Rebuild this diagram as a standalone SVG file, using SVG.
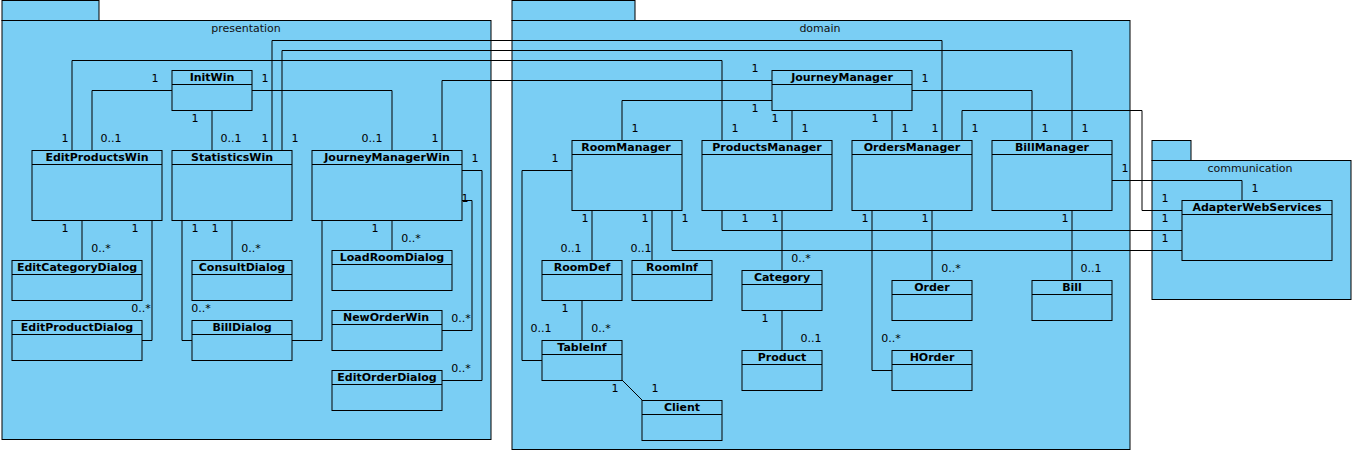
<svg xmlns="http://www.w3.org/2000/svg" width="1356" height="455" viewBox="0 0 1356 455">
<style>
.pkg{fill:#7acef4;stroke:#000;stroke-width:1}
.pl{font-family:"DejaVu Sans",sans-serif;font-size:11px;text-anchor:middle;fill:#111}
.cls rect{fill:#7acef4;stroke:#000;stroke-width:1}
.cls line{stroke:#000;stroke-width:1}
.cls text{font-family:"DejaVu Sans",sans-serif;font-size:11px;font-weight:bold;text-anchor:middle;fill:#000}
#connectors path{fill:none;stroke:#000;stroke-width:1}
.m{font-family:"DejaVu Sans",sans-serif;font-size:11px;text-anchor:middle;fill:#000}
</style>
<rect width="1356" height="455" fill="#fff"/>
<g id="pkg-presentation">
<rect class="pkg" x="2" y="0.5" width="97" height="20"/>
<rect class="pkg" x="2" y="20.5" width="489" height="419"/>
<text class="pl" x="246" y="32">presentation</text>
</g>
<g id="pkg-domain">
<rect class="pkg" x="512" y="0.5" width="123" height="20"/>
<rect class="pkg" x="512" y="20.5" width="618" height="429"/>
<text class="pl" x="820" y="32">domain</text>
</g>
<g id="pkg-communication">
<rect class="pkg" x="1152" y="140.5" width="39" height="20"/>
<rect class="pkg" x="1152" y="160.5" width="199" height="139"/>
<text class="pl" x="1250" y="172">communication</text>
</g>
<g id="connectors">
<path d="M172,90.5 H92 V150"/>
<path d="M252,90.5 H392 V150"/>
<path d="M212,110 V150"/>
<path d="M72,150 V60.5 H722 V140"/>
<path d="M272,150 V40.5 H942 V140"/>
<path d="M282,150 V50.5 H1072 V140"/>
<path d="M442,150 V80.5 H772"/>
<path d="M82,220 V260"/>
<path d="M152,220 V340.5 H142"/>
<path d="M182,220 V340.5 H192"/>
<path d="M232,220 V260"/>
<path d="M322,220 V340.5 H292"/>
<path d="M392,220 V250"/>
<path d="M462,170.5 H482 V380.5 H442"/>
<path d="M462,200.5 H472 V330.5 H442"/>
<path d="M772,100.5 H622 V140"/>
<path d="M792,110 V140"/>
<path d="M892,110 V140"/>
<path d="M912,90.5 H1032 V140"/>
<path d="M962,140 V110.5 H1142 V210.5 H1182"/>
<path d="M1112,180.5 H1242 V200"/>
<path d="M722,210 V230.5 H1182"/>
<path d="M672,210 V250.5 H1182"/>
<path d="M572,170.5 H522 V360.5 H542"/>
<path d="M592,210 V260"/>
<path d="M652,210 V260"/>
<path d="M582,300 V340"/>
<path d="M622,380 L642,400"/>
<path d="M782,210 V270"/>
<path d="M782,310 V350"/>
<path d="M872,210 V370.5 H892"/>
<path d="M932,210 V280"/>
<path d="M1072,210 V280"/>
</g>
<g id="multiplicities">
<text class="m" x="155" y="82">1</text><text class="m" x="111" y="142">0..1</text>
<text class="m" x="265" y="82">1</text><text class="m" x="372" y="142">0..1</text>
<text class="m" x="195" y="122">1</text><text class="m" x="231" y="142">0..1</text>
<text class="m" x="65" y="142">1</text><text class="m" x="735" y="132">1</text>
<text class="m" x="265" y="142">1</text><text class="m" x="935" y="132">1</text>
<text class="m" x="295" y="142">1</text><text class="m" x="1085" y="132">1</text>
<text class="m" x="435" y="142">1</text><text class="m" x="755" y="72">1</text>
<text class="m" x="65" y="232">1</text><text class="m" x="101" y="252">0..*</text>
<text class="m" x="135" y="232">1</text><text class="m" x="141" y="312">0..*</text>
<text class="m" x="195" y="232">1</text><text class="m" x="201" y="312">0..*</text>
<text class="m" x="215" y="232">1</text><text class="m" x="251" y="252">0..*</text>
<text class="m" x="375" y="232">1</text><text class="m" x="411" y="242">0..*</text>
<text class="m" x="475" y="162">1</text><text class="m" x="461" y="372">0..*</text>
<text class="m" x="465" y="202">1</text><text class="m" x="461" y="322">0..*</text>
<text class="m" x="755" y="112">1</text><text class="m" x="635" y="132">1</text>
<text class="m" x="775" y="122">1</text><text class="m" x="805" y="132">1</text>
<text class="m" x="875" y="122">1</text><text class="m" x="905" y="132">1</text>
<text class="m" x="925" y="82">1</text><text class="m" x="1045" y="132">1</text>
<text class="m" x="975" y="132">1</text><text class="m" x="1165" y="202">1</text>
<text class="m" x="1125" y="172">1</text><text class="m" x="1255" y="192">1</text>
<text class="m" x="745" y="222">1</text><text class="m" x="1165" y="222">1</text>
<text class="m" x="685" y="222">1</text><text class="m" x="1165" y="242">1</text>
<text class="m" x="555" y="162">1</text><text class="m" x="541" y="332">0..1</text>
<text class="m" x="585" y="222">1</text><text class="m" x="571" y="252">0..1</text>
<text class="m" x="645" y="222">1</text><text class="m" x="641" y="252">0..1</text>
<text class="m" x="565" y="312">1</text><text class="m" x="601" y="332">0..*</text>
<text class="m" x="615" y="392">1</text><text class="m" x="655" y="392">1</text>
<text class="m" x="775" y="222">1</text><text class="m" x="801" y="262">0..*</text>
<text class="m" x="765" y="322">1</text><text class="m" x="811" y="342">0..1</text>
<text class="m" x="865" y="222">1</text><text class="m" x="891" y="342">0..*</text>
<text class="m" x="925" y="222">1</text><text class="m" x="951" y="272">0..*</text>
<text class="m" x="1065" y="222">1</text><text class="m" x="1091" y="272">0..1</text>
</g>
<g id="InitWin" class="cls"><rect x="172" y="70.5" width="80" height="40"/><line x1="172" y1="84.5" x2="252" y2="84.5"/><text x="212" y="81">InitWin</text></g>
<g id="EditProductsWin" class="cls"><rect x="32" y="150.5" width="130" height="70"/><line x1="32" y1="164.5" x2="162" y2="164.5"/><text x="97" y="161">EditProductsWin</text></g>
<g id="StatisticsWin" class="cls"><rect x="172" y="150.5" width="120" height="70"/><line x1="172" y1="164.5" x2="292" y2="164.5"/><text x="232" y="161">StatisticsWin</text></g>
<g id="JourneyManagerWin" class="cls"><rect x="312" y="150.5" width="150" height="70"/><line x1="312" y1="164.5" x2="462" y2="164.5"/><text x="387" y="161">JourneyManagerWin</text></g>
<g id="EditCategoryDialog" class="cls"><rect x="12" y="260.5" width="130" height="40"/><line x1="12" y1="274.5" x2="142" y2="274.5"/><text x="77" y="271">EditCategoryDialog</text></g>
<g id="EditProductDialog" class="cls"><rect x="12" y="320.5" width="130" height="40"/><line x1="12" y1="334.5" x2="142" y2="334.5"/><text x="77" y="331">EditProductDialog</text></g>
<g id="ConsultDialog" class="cls"><rect x="192" y="260.5" width="100" height="40"/><line x1="192" y1="274.5" x2="292" y2="274.5"/><text x="242" y="271">ConsultDialog</text></g>
<g id="BillDialog" class="cls"><rect x="192" y="320.5" width="100" height="40"/><line x1="192" y1="334.5" x2="292" y2="334.5"/><text x="242" y="331">BillDialog</text></g>
<g id="LoadRoomDialog" class="cls"><rect x="332" y="250.5" width="120" height="40"/><line x1="332" y1="264.5" x2="452" y2="264.5"/><text x="392" y="261">LoadRoomDialog</text></g>
<g id="NewOrderWin" class="cls"><rect x="332" y="310.5" width="110" height="40"/><line x1="332" y1="324.5" x2="442" y2="324.5"/><text x="386" y="321">NewOrderWin</text></g>
<g id="EditOrderDialog" class="cls"><rect x="332" y="370.5" width="110" height="40"/><line x1="332" y1="384.5" x2="442" y2="384.5"/><text x="387" y="381">EditOrderDialog</text></g>
<g id="JourneyManager" class="cls"><rect x="772" y="70.5" width="140" height="40"/><line x1="772" y1="84.5" x2="912" y2="84.5"/><text x="842" y="81">JourneyManager</text></g>
<g id="RoomManager" class="cls"><rect x="572" y="140.5" width="110" height="70"/><line x1="572" y1="154.5" x2="682" y2="154.5"/><text x="626" y="151">RoomManager</text></g>
<g id="ProductsManager" class="cls"><rect x="702" y="140.5" width="130" height="70"/><line x1="702" y1="154.5" x2="832" y2="154.5"/><text x="767" y="151">ProductsManager</text></g>
<g id="OrdersManager" class="cls"><rect x="852" y="140.5" width="120" height="70"/><line x1="852" y1="154.5" x2="972" y2="154.5"/><text x="912" y="151">OrdersManager</text></g>
<g id="BillManager" class="cls"><rect x="992" y="140.5" width="120" height="70"/><line x1="992" y1="154.5" x2="1112" y2="154.5"/><text x="1052" y="151">BillManager</text></g>
<g id="RoomDef" class="cls"><rect x="542" y="260.5" width="80" height="40"/><line x1="542" y1="274.5" x2="622" y2="274.5"/><text x="582" y="271">RoomDef</text></g>
<g id="RoomInf" class="cls"><rect x="632" y="260.5" width="80" height="40"/><line x1="632" y1="274.5" x2="712" y2="274.5"/><text x="672" y="271">RoomInf</text></g>
<g id="TableInf" class="cls"><rect x="542" y="340.5" width="80" height="40"/><line x1="542" y1="354.5" x2="622" y2="354.5"/><text x="582" y="351">TableInf</text></g>
<g id="Client" class="cls"><rect x="642" y="400.5" width="80" height="40"/><line x1="642" y1="414.5" x2="722" y2="414.5"/><text x="682" y="411">Client</text></g>
<g id="Category" class="cls"><rect x="742" y="270.5" width="80" height="40"/><line x1="742" y1="284.5" x2="822" y2="284.5"/><text x="782" y="281">Category</text></g>
<g id="Product" class="cls"><rect x="742" y="350.5" width="80" height="40"/><line x1="742" y1="364.5" x2="822" y2="364.5"/><text x="782" y="361">Product</text></g>
<g id="Order" class="cls"><rect x="892" y="280.5" width="80" height="40"/><line x1="892" y1="294.5" x2="972" y2="294.5"/><text x="932" y="291">Order</text></g>
<g id="HOrder" class="cls"><rect x="892" y="350.5" width="80" height="40"/><line x1="892" y1="364.5" x2="972" y2="364.5"/><text x="932" y="361">HOrder</text></g>
<g id="Bill" class="cls"><rect x="1032" y="280.5" width="80" height="40"/><line x1="1032" y1="294.5" x2="1112" y2="294.5"/><text x="1072" y="291">Bill</text></g>
<g id="AdapterWebServices" class="cls"><rect x="1182" y="200.5" width="150" height="60"/><line x1="1182" y1="214.5" x2="1332" y2="214.5"/><text x="1257" y="211">AdapterWebServices</text></g>
</svg>
